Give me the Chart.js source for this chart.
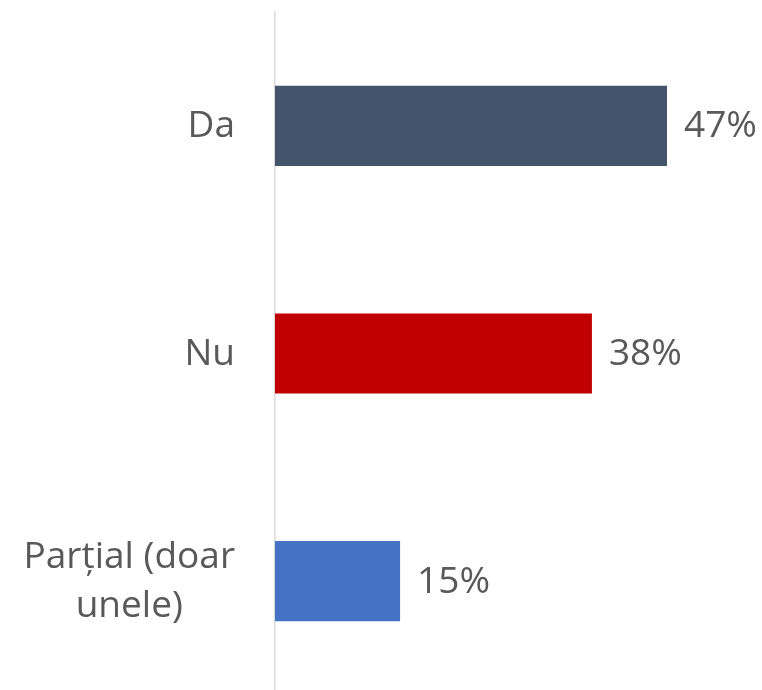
<!DOCTYPE html>
<html>
<head>
<meta charset="utf-8">
<script src="https://cdn.jsdelivr.net/npm/chart.js@4/dist/chart.umd.min.js"></script>
<style>
html,body{margin:0;padding:0;background:#fff;overflow:hidden;}
#wrap{position:relative;width:762px;height:695px;}
</style>
</head>
<body>
<div id="wrap"><canvas id="c"></canvas></div>
<script>
const categories = [["Da"], ["Nu"], ["Parțial (doar", "unele)"]];
const values = [47, 38, 15];
const barColors = ["#44546A", "#C00000", "#4472C4"];
const valueSuffix = "%";

const FONT = '37px "Open Sans"';
const TEXT_COLOR = '#595959';

const labelPlugin = {
  id: 'labels',
  afterDatasetsDraw(chart) {
    const ctx = chart.ctx;
    const yScale = chart.scales.y;
    const meta = chart.getDatasetMeta(0);
    ctx.save();
    ctx.font = FONT;
    ctx.fillStyle = TEXT_COLOR;
    ctx.textBaseline = 'middle';
    const lineH = 49;
    const rightEdge = chart.chartArea.left - 40;
    categories.forEach((lines, i) => {
      const yc = yScale.getPixelForValue(i) + 1;
      const maxW = Math.max(...lines.map(l => ctx.measureText(l).width));
      const cx = rightEdge - maxW / 2;
      ctx.textAlign = 'center';
      lines.forEach((l, j) => {
        const y = yc + (j - (lines.length - 1) / 2) * lineH;
        ctx.fillText(l, cx, y);
      });
      const bar = meta.data[i];
      ctx.textAlign = 'left';
      ctx.fillText(values[i] + valueSuffix, bar.x + 17, yc);
    });
    ctx.restore();
  }
};

new Chart(document.getElementById('c'), {
  type: 'bar',
  data: {
    labels: categories,
    datasets: [{
      data: values,
      backgroundColor: barColors,
      barPercentage: 0.352,
      categoryPercentage: 1
    }]
  },
  options: {
    indexAxis: 'y',
    responsive: true,
    maintainAspectRatio: false,
    animation: false,
    layout: { padding: { left: 275, right: 70, top: 12, bottom: 0 } },
    plugins: { legend: { display: false }, tooltip: { enabled: false } },
    scales: {
      x: { display: false, min: 0, max: 50 },
      y: {
        ticks: { display: false },
        grid: { display: false, drawTicks: false },
        border: { display: true, color: '#D9D9D9', width: 1.5 }
      }
    }
  },
  plugins: [labelPlugin]
});
</script>
</body>
</html>
